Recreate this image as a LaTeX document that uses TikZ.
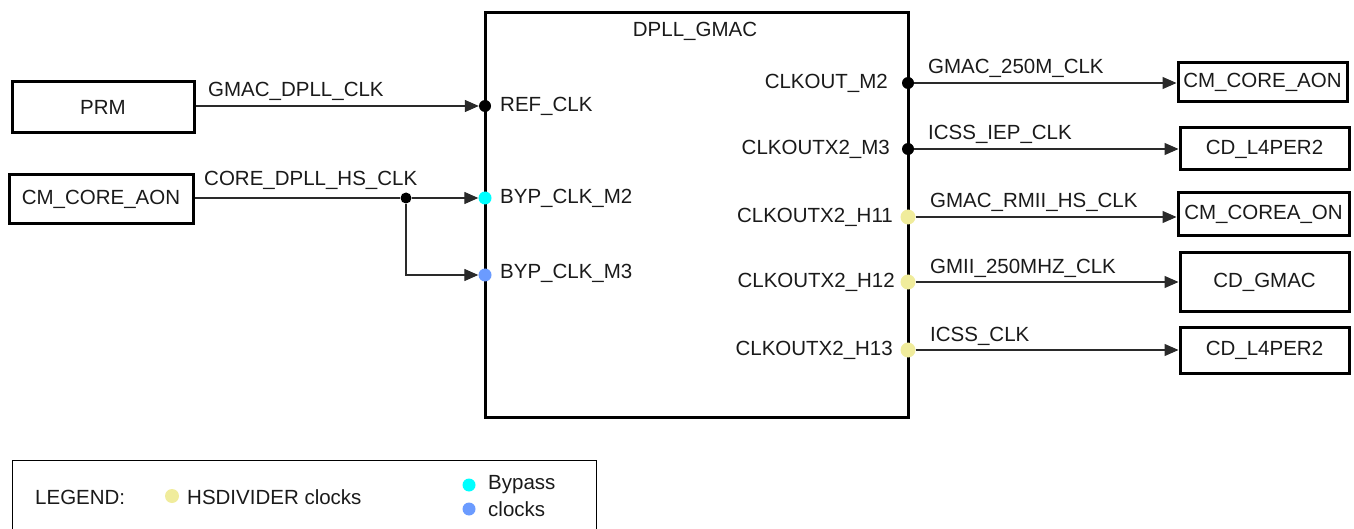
\documentclass[tikz,border=0pt]{standalone}
\usepackage{fontspec}
\setmainfont{Liberation Sans}
\usetikzlibrary{arrows.meta}
\definecolor{hsy}{HTML}{F0EC9C}
\definecolor{byc}{HTML}{00FFFF}
\definecolor{byb}{HTML}{6B9BFF}
\definecolor{txt}{HTML}{1A1A1A}
\definecolor{ln}{HTML}{2A2A2A}
\newcommand\dgfont{\fontsize{20.5}{24}\selectfont}
\begin{document}
\begin{tikzpicture}[x=1pt,y=-1pt,
  blk/.style={draw=black, line width=3pt, inner sep=0pt, font=\dgfont, text=txt},
  lbl/.style={inner sep=0pt, font=\dgfont, text=txt},
  wire/.style={draw=ln, line width=1.3pt},
  conn/.style={wire, -{Triangle[length=14pt,width=12pt]}},
  bdot/.style={circle, fill=black, inner sep=0pt, minimum size=12pt},
  ydot/.style={circle, fill=hsy, inner sep=0pt, minimum size=15pt},
  cdot/.style={circle, fill=byc, inner sep=0pt, minimum size=13pt},
  pdot/.style={circle, fill=byb, inner sep=0pt, minimum size=13pt}]
\useasboundingbox (0,0) rectangle (1354,529);

% main block
\node[blk, minimum width=423pt, minimum height=404pt] (dpll) at (696.5,215) {};
\node[lbl] (title) at (695,31) {DPLL\_GMAC};

% left sources
\node[blk, minimum width=182pt, minimum height=51pt] (prm) at (103,107.5) {PRM};
\node[blk, minimum width=184pt, minimum height=49pt] (core) at (101,199.5) {CM\_CORE\_AON};

% input dots
\node[bdot] (ref) at (485,106) {};
\node[cdot] (byp2) at (485,198) {};
\node[pdot] (byp3) at (485,275) {};
\node[bdot, minimum size=11pt] (jn) at (406,198) {};

\node[lbl, anchor=west] (lref) at (500,106) {REF\_CLK};
\node[lbl, anchor=west] (lbyp2) at (500,198) {BYP\_CLK\_M2};
\node[lbl, anchor=west] (lbyp3) at (500,273) {BYP\_CLK\_M3};

\draw[conn] (prm.east |- ref) -- (ref.west);
\draw[wire] (core.east |- jn) -- (jn);
\draw[conn] (jn) -- (byp2.west);
\draw[conn] (jn) |- (byp3.west);

\node[lbl, anchor=west] (sig1) at (208,91) {GMAC\_DPLL\_CLK};
\node[lbl, anchor=west] (sig2) at (204,180) {CORE\_DPLL\_HS\_CLK};

% outputs
\node[bdot] (o1) at (908,83) {};
\node[bdot] (o2) at (908,149) {};
\node[ydot] (o3) at (908,217) {};
\node[ydot] (o4) at (908,282) {};
\node[ydot] (o5) at (908,350) {};

\node[lbl, anchor=east] (lo1) at (888,83) {CLKOUT\_M2};
\node[lbl, anchor=east] (lo2) at (890,149) {CLKOUTX2\_M3};
\node[lbl, anchor=east] (lo3) at (893,217) {CLKOUTX2\_H11};
\node[lbl, anchor=east] (lo4) at (895,282) {CLKOUTX2\_H12};
\node[lbl, anchor=east] (lo5) at (893,350) {CLKOUTX2\_H13};

\node[blk, minimum width=169pt, minimum height=39pt] (r1) at (1262.5,82.5) {CM\_CORE\_AON};
\node[blk, minimum width=169pt, minimum height=42pt] (r2) at (1264.5,149) {CD\_L4PER2};
\node[blk, minimum width=171pt, minimum height=43pt] (r3) at (1263.5,214.5) {CM\_COREA\_ON};
\node[blk, minimum width=169pt, minimum height=58pt] (r4) at (1264.5,282) {CD\_GMAC};
\node[blk, minimum width=169pt, minimum height=46pt] (r5) at (1264.5,350) {CD\_L4PER2};

\draw[conn] (o1) -- (r1.west |- o1);
\draw[conn] (o2) -- (r2.west |- o2);
\draw[conn] (o3) -- (r3.west |- o3);
\draw[conn] (o4) -- (r4.west |- o4);
\draw[conn] (o5) -- (r5.west |- o5);

\node[lbl, anchor=west] (s1) at (928,68) {GMAC\_250M\_CLK};
\node[lbl, anchor=west] (s2) at (928,134) {ICSS\_IEP\_CLK};
\node[lbl, anchor=west] (s3) at (930,202) {GMAC\_RMII\_HS\_CLK};
\node[lbl, anchor=west] (s4) at (930,268) {GMII\_250MHZ\_CLK};
\node[lbl, anchor=west] (s5) at (930,336) {ICSS\_CLK};

% legend
\node[draw=black, line width=1.2pt, minimum width=584pt, minimum height=140pt, anchor=north west, inner sep=0pt] (legend) at (12,460) {};
\node[lbl, anchor=west] (leg) at (35,497) {LEGEND:};
\node[ydot, minimum size=14pt] (legy) at (172,496) {};
\node[lbl, anchor=west] (legyt) at (187,497) {HSDIVIDER clocks};
\node[cdot] (legc) at (469,485) {};
\node[pdot] (legb) at (469,509) {};
\node[lbl, anchor=west] (legct) at (488,485) {Bypass};
\node[lbl, anchor=west] (legbt) at (488,509) {clocks};
\end{tikzpicture}
\end{document}
